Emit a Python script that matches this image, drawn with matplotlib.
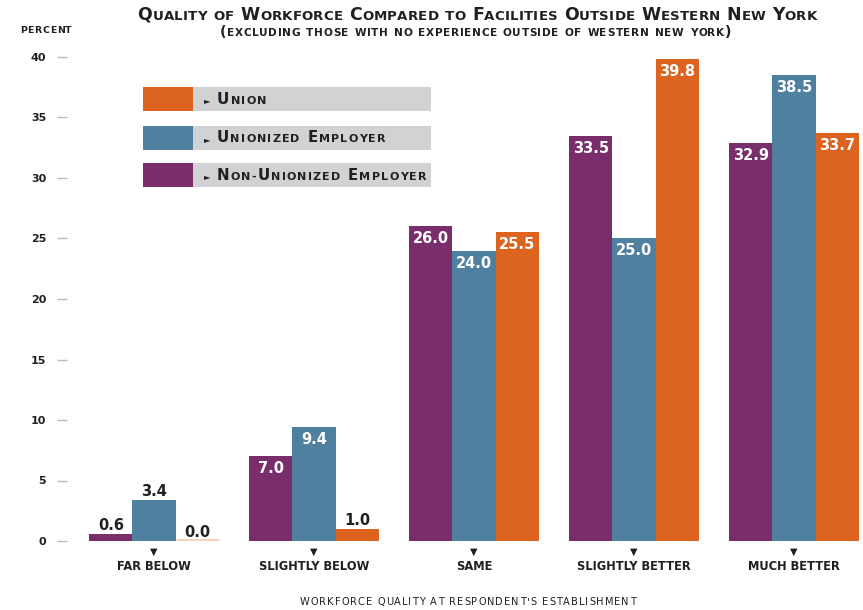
import numpy as np
import matplotlib
matplotlib.use("Agg")
import matplotlib.pyplot as plt
from matplotlib.patches import Rectangle
from matplotlib.transforms import IdentityTransform
from matplotlib.font_manager import FontProperties

# data
categories = ["FAR BELOW", "SLIGHTLY BELOW", "SAME", "SLIGHTLY BETTER", "MUCH BETTER"]
non_unionized = [0.6, 7.0, 26.0, 33.5, 32.9]
unionized = [3.4, 9.4, 24.0, 25.0, 38.5]
union = [0.0, 1.0, 25.5, 39.8, 33.7]
y_ticks = [0, 5, 10, 15, 20, 25, 30, 35, 40]

title = "Quality of Workforce Compared to Facilities Outside Western New York"
subtitle = "(excluding those with no experience outside of western new york)"
legend_labels = ["Union", "Unionized Employer", "Non-Unionized Employer"]
x_title = "WORKFORCE QUALITY AT RESPONDENT'S ESTABLISHMENT"

# colors
c_purple = "#7a2d6b"
c_blue = "#4f80a0"
c_orange = "#dc641e"
c_text = "#231f20"
c_gray = "#d1d2d4"

W, H = 863, 610
FONT = "DejaVu Sans"


def pix(y_top):
    # pixel y measured from top -> display coords
    return H - y_top


def advance(renderer, ch, prop):
    w1 = renderer.get_text_width_height_descent("H" + ch + "H", prop, False)[0]
    w0 = renderer.get_text_width_height_descent("HH", prop, False)[0]
    return w1 - w0


def draw_fitted(fig, x, y, text, ratio, track, width, ha="center", color=c_text,
                weight="bold"):
    # fake small caps: font size is scaled so the text with a fixed letter
    # spacing (px) fills the given pixel width. ratio = big size / small size
    renderer = fig.canvas.get_renderer()
    base = 10.0
    sizes = [base / ratio if (ch.islower() or ch == "-") else base for ch in text]
    total = 0.0
    for ch, sz in zip(text, sizes):
        total += advance(renderer, ch.upper(), FontProperties(family=FONT, weight=weight, size=sz))
    scale = (width - track * (len(text) - 1)) / total
    x0 = x - width / 2 if ha == "center" else x
    for ch, sz in zip(text, sizes):
        prop = FontProperties(family=FONT, weight=weight, size=sz * scale)
        if ch != " ":
            fig.text(x0, y, ch.upper(), fontproperties=prop, color=color, ha="left",
                     va="baseline", transform=IdentityTransform())
        x0 += advance(renderer, ch.upper(), prop) + track
    return base * scale


def main():
    fig = plt.figure(figsize=(W / 100, H / 100), dpi=100)
    ax = fig.add_axes([67 / W, 69 / H, 1 - 67 / W, 484 / H])

    x = np.arange(len(categories))
    w = 0.269
    series = [(non_unionized, c_purple, -w), (unionized, c_blue, 0), (union, c_orange, w)]
    for vals, col, off in series:
        bars = ax.bar(x + off, vals, width=w, color=col, linewidth=0)
        for b, v in zip(bars, vals):
            cx = b.get_x() + b.get_width() / 2
            if v == 0:
                ax.plot([b.get_x(), b.get_x() + b.get_width()], [0.08, 0.08],
                        color="#f7cfb5", lw=2, solid_capstyle="butt")
            if v > 5:
                ax.annotate(f"{v:.1f}", (cx, v), xytext=(0, -9), textcoords="offset points",
                            ha="center", va="center", color="white", fontsize=10.5,
                            fontweight="bold", fontfamily=FONT)
            else:
                ax.annotate(f"{v:.1f}", (cx, v), xytext=(0, 6), textcoords="offset points",
                            ha="center", va="center", color=c_text, fontsize=10.5,
                            fontweight="bold", fontfamily=FONT)

    ax.set_xlim(-(154 - 67) / 160, (863 - 154) / 160)
    ax.set_ylim(0, 40)
    for s in ax.spines.values():
        s.set_visible(False)
    ax.set_yticks(y_ticks)
    ax.set_yticklabels([str(t) for t in y_ticks], fontsize=8, fontweight="bold",
                       color=c_text, fontfamily=FONT)
    ax.tick_params(axis="y", length=7, width=1, color="#a7c0d2", pad=8)
    for tk in ax.yaxis.get_major_ticks():
        if tk.get_loc() == 20:
            tk.tick1line.set_color("#4f80a0")
    ax.set_xticks(x)
    ax.set_xticklabels(["\u25BC" for _ in categories], fontsize=7, color=c_text,
                       fontfamily=FONT)
    ax.tick_params(axis="x", length=0, pad=4)

    for xi, cat in zip(x, categories):
        ax.annotate(cat, (xi, 0), xytext=(0, -18), textcoords="offset points",
                    ha="center", va="center", fontsize=8.3, color=c_text,
                    fontweight="bold", fontfamily=FONT)

    draw_fitted(fig, 469, pix(605), x_title, 1.0, 1.0, 338, weight="normal")
    draw_fitted(fig, 20, pix(33), "PERCENT", 1.0, 0.6, 52, ha="left")

    # title / subtitle in small caps
    draw_fitted(fig, 476, pix(19.5), title, 1.3, 0.2, 677)
    draw_fitted(fig, 476, pix(35.5), subtitle, 1.35, 0.6, 512)

    # legend
    rows = [(87, c_orange), (126, c_blue), (163, c_purple)]
    widths = [50, 170, 210]
    for (top, col), lab, tw in zip(rows, legend_labels, widths):
        fig.patches.append(Rectangle((143, pix(top + 24)), 50, 24, facecolor=col,
                                     transform=IdentityTransform(), figure=fig))
        fig.patches.append(Rectangle((193, pix(top + 24)), 238, 24, facecolor=c_gray,
                                     transform=IdentityTransform(), figure=fig))
        fig.text(204, pix(top + 16.5), "\u25BA", fontsize=6, color=c_text,
                 fontfamily=FONT, ha="left", va="baseline",
                 transform=IdentityTransform())
        draw_fitted(fig, 217, pix(top + 16.5), lab, 1.35, 1.2, tw, ha="left")

    fig.savefig("out.png", dpi=100)
    plt.close(fig)


if __name__ == "__main__":
    main()
